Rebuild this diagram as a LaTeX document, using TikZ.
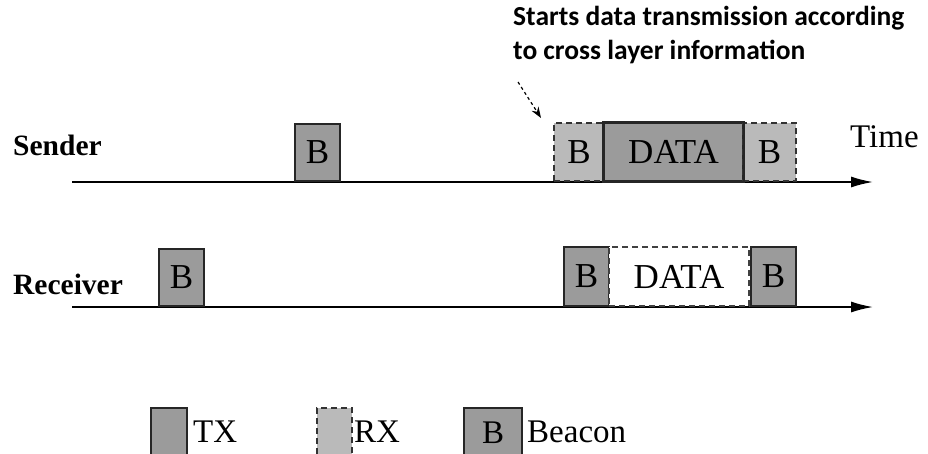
\documentclass[tikz,border=0pt]{standalone}
\usepackage{fontspec}
\setmainfont{Liberation Serif}
\newfontfamily\annotfont{Carlito}
\usetikzlibrary{arrows.meta}
\definecolor{txgray}{RGB}{155,155,155}
\definecolor{rxgray}{RGB}{186,186,186}
\begin{document}
\begin{tikzpicture}[x=1pt,y=-1pt,
  axis/.style={line width=1.6pt,-{Latex[length=22pt,width=11pt]}},
  slot/.style={anchor=south west,inner sep=0pt,line width=2pt,
     font=\fontsize{35}{35}\selectfont},
  txbox/.style={slot,draw=black!85,fill=txgray},
  rxbox/.style={slot,draw=black!80,fill=rxgray,dashed,dash pattern=on 6pt off 4pt},
  rxwhite/.style={slot,draw=black!75,fill=white,dashed,dash pattern=on 6pt off 4pt},
  rowlabel/.style={anchor=base west,inner sep=0pt,font=\fontsize{29.5}{29.5}\selectfont\bfseries},
  legtext/.style={anchor=west,inner sep=0pt,font=\fontsize{33}{33}\selectfont}]
\useasboundingbox (0,0) rectangle (928,453);

% row labels
\node[rowlabel] (sender) at (13,155) {Sender};
\node[rowlabel] (receiver) at (13,294) {Receiver};
\node[anchor=base west,inner sep=0pt,font=\fontsize{33}{33}\selectfont] (time) at (850,147) {Time};

% axes
\coordinate (s0) at (72,182);
\coordinate (s1) at (873,182);
\coordinate (r0) at (72,307);
\coordinate (r1) at (873,307);
\draw[axis] (s0) -- (s1);
\draw[axis] (r0) -- (r1);

% sender slots
\node[txbox,minimum width=45pt,minimum height=57pt] (sb1) at (294,182) {B};
\node[rxbox,minimum width=50pt,minimum height=58pt] (sb2) at (553,182) {B};
\node[txbox,minimum width=139pt,minimum height=58pt] (sdata) at (603,182) {DATA};
\node[rxbox,minimum width=53pt,minimum height=58pt] (sb3) at (742,182) {B};
\draw[line width=2.4pt,black!85] (sdata.south west) rectangle (sdata.north east);

% receiver slots
\node[txbox,minimum width=45pt,minimum height=57pt] (rb1) at (158,307) {B};
\node[txbox,minimum width=45pt,minimum height=59pt] (rb2) at (563,307) {B};
\node[rxwhite,minimum width=140pt,minimum height=59pt] (rdata) at (608,307) {DATA};
\node[txbox,minimum width=45pt,minimum height=59pt] (rb3) at (750,307) {B};

% annotation
\node[anchor=north west,inner sep=0pt,align=left,
      font=\annotfont\bfseries\fontsize{27.5}{34}\selectfont] (note) at (513,6)
  {Starts data transmission according\\to cross layer information};
\coordinate (n0) at (518,82);
\draw[dashed,dash pattern=on 3pt off 3pt,line width=1.2pt,-{Stealth[length=11pt,width=8pt]}]
  (n0) -- ([shift={(-12,-4)}]sb2.north west);

% legend
\node[txbox,anchor=north west,minimum width=36pt,minimum height=50pt] (ltx) at (150,407) {};
\node[legtext] (ltxt) at (193,432) {TX};
\node[rxbox,anchor=north west,minimum width=35pt,minimum height=50pt] (lrx) at (316,407) {};
\node[legtext] (lrxt) at (354,432) {RX};
\node[txbox,anchor=north west,minimum width=58pt,minimum height=50pt,
      font=\fontsize{33}{33}\selectfont] (lb) at (463,407) {B};
\node[legtext] (lbt) at (527,432) {Beacon};
\end{tikzpicture}
\end{document}
